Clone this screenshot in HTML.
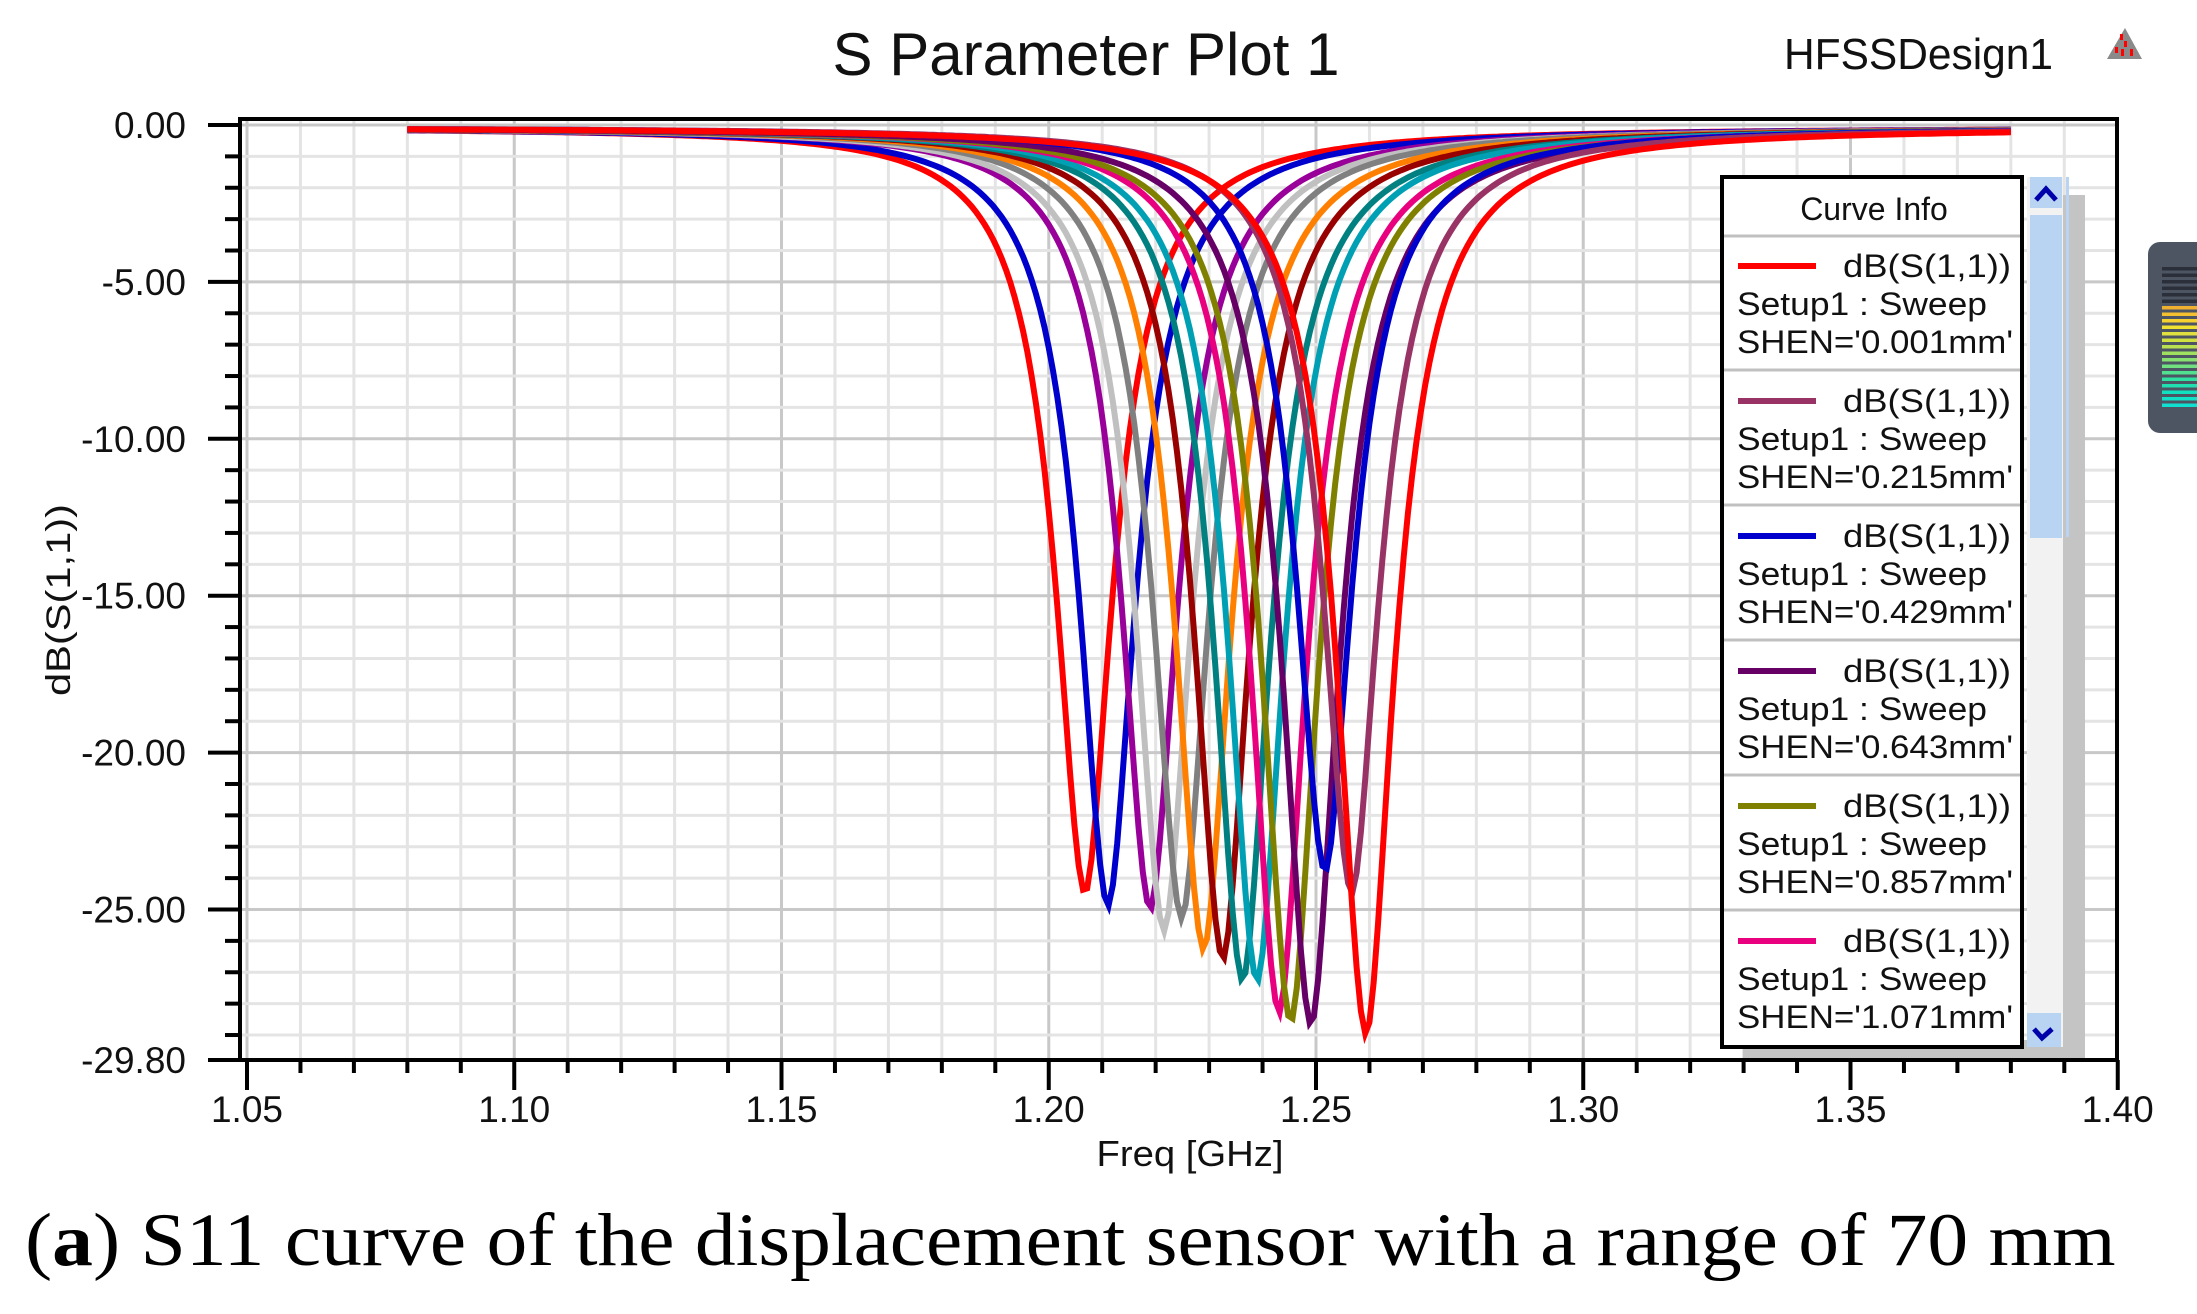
<!DOCTYPE html>
<html><head><meta charset="utf-8"><style>
html,body{margin:0;padding:0;background:#fff;}
svg{display:block;}
</style></head><body>
<svg id="s" width="2197" height="1314" viewBox="0 0 2197 1314" xmlns="http://www.w3.org/2000/svg" font-family="Liberation Sans, Arial, sans-serif">
<rect width="2197" height="1314" fill="#fff"/>
<g id="grid"></g>
<rect x="2063" y="195" width="22" height="865" fill="#c4c4c4"/>
<rect x="1743" y="1040" width="342" height="20" fill="#c4c4c4"/>
<g id="curves" fill="none" stroke-width="6" stroke-linejoin="miter"></g>
<rect x="240" y="119" width="1877" height="941" fill="none" stroke="#000" stroke-width="4"/>
<g id="ticks" stroke="#000" stroke-width="4"></g>
<g id="labels" font-size="37" fill="#111"></g>
<text x="1086" y="75" font-size="60" text-anchor="middle" textLength="507" lengthAdjust="spacingAndGlyphs" fill="#111">S Parameter Plot 1</text>
<text x="1784" y="69" font-size="44" textLength="269" lengthAdjust="spacingAndGlyphs" fill="#111">HFSSDesign1</text>
<polygon points="2125,28 2142,59 2107,59" fill="#8a8a8a"/>
<rect x="2120" y="34" width="3" height="6" fill="#f00"/><rect x="2124" y="41" width="3" height="6" fill="#f00"/>
<rect x="2115" y="47" width="3" height="6" fill="#f00"/><rect x="2121" y="49" width="3" height="7" fill="#f00"/><rect x="2130" y="49" width="3" height="7" fill="#f00"/>
<rect x="2148" y="242" width="60" height="191" rx="12" fill="#4d5563"/>
<g id="stripes"></g>
<text transform="translate(70,600) rotate(-90)" font-size="34" text-anchor="middle" textLength="192" lengthAdjust="spacingAndGlyphs" fill="#111">dB(S(1,1))</text>
<text x="1190" y="1166" font-size="36" text-anchor="middle" textLength="187" lengthAdjust="spacingAndGlyphs" fill="#111">Freq [GHz]</text>
<rect x="1722" y="177" width="300" height="870" fill="#fff" stroke="#000" stroke-width="4"/>
<line x1="1724" y1="236" x2="2020" y2="236" stroke="#c0c0c0" stroke-width="3"/>
<text x="1874" y="220" font-size="32" text-anchor="middle" fill="#111">Curve Info</text>
<g id="legend" font-size="32" fill="#111"></g>
<rect x="2027" y="177" width="36" height="870" fill="#f2f2f2"/>
<rect x="2030" y="177" width="32" height="31" fill="#b8d4f2"/>
<polyline points="2036,200 2046,189 2056,200" fill="none" stroke="#0000aa" stroke-width="5"/>
<rect x="2030" y="215" width="32" height="323" fill="#b8d4f2"/>
<rect x="2066" y="177" width="3" height="360" fill="#b8d4f2"/>
<rect x="2027" y="1013" width="34" height="34" fill="#b8d4f2"/>
<polyline points="2034,1029 2042,1038 2052,1029" fill="none" stroke="#0000aa" stroke-width="5"/>
<text x="25" y="1265" font-family="Liberation Serif, serif" font-size="75" fill="#000" transform="translate(25,0) scale(1.088,1) translate(-25,0)">(<tspan font-weight="bold">a</tspan>) S11 curve of the displacement sensor with a range of 70 mm</text>
</svg>
<script>
var NS="http://www.w3.org/2000/svg";
function el(p,t,a,txt){var e=document.createElementNS(NS,t);for(var k in a)e.setAttribute(k,a[k]);if(txt!=null)e.textContent=txt;p.appendChild(e);return e;}
function X(f){return 247+(f-1.05)*5345;}
function Y(v){return 125+(-v)*31.38;}
var g=document.getElementById('grid');
for(var i=0;i<35;i++){var x=X(1.05+i*0.01);el(g,'line',{x1:x,y1:121,x2:x,y2:1058,stroke:i%5==0?'#c8c8c8':'#e4e4e4','stroke-width':3});}
for(var d=0;d<=29;d++){var y=Y(-d);el(g,'line',{x1:242,y1:y,x2:2115,y2:y,stroke:d%5==0?'#c8c8c8':'#e4e4e4','stroke-width':3});}
var t=document.getElementById('ticks');
for(var d=0;d<=29;d++){var y=Y(-d);el(t,'line',{x1:d%5==0?208:225,y1:y,x2:240,y2:y});}
el(t,'line',{x1:208,y1:1060,x2:240,y2:1060});
for(var i=0;i<=35;i++){var x=X(1.05+i*0.01);el(t,'line',{x1:x,y1:1060,x2:x,y2:i%5==0?1090:1073});}
var L=document.getElementById('labels');
var yl=['0.00','-5.00','-10.00','-15.00','-20.00','-25.00'];
for(var i=0;i<6;i++)el(L,'text',{x:186,y:Y(-5*i)+13,'text-anchor':'end'},yl[i]);
el(L,'text',{x:186,y:1073,'text-anchor':'end'},'-29.80');
for(var i=0;i<=7;i++)el(L,'text',{x:X(1.05+i*0.05),y:1122,'text-anchor':'middle'},(1.05+i*0.05).toFixed(2));
var C=[
['#ff0000',1.2068,-24.4],['#0000cc',1.2111,-24.8],['#990099',1.219,-24.9],['#c0c0c0',1.2216,-25.6],['#808080',1.2249,-25.2],
['#ff8000',1.229,-26.2],['#990000',1.2326,-26.5],['#008080',1.2363,-27.2],['#00a0b4',1.239,-27.2],['#e8007f',1.2431,-28.2],
['#808000',1.2453,-28.5],['#660066',1.2491,-28.6],['#0000cc',1.2517,-23.7],['#993366',1.2567,-24.4],['#ff0000',1.2594,-28.9]];
var cg=document.getElementById('curves');
C.forEach(function(c){var pts=[];for(var f=1.08;f<=1.3805;f+=0.0008){var df=f-c[1];var u,v;
if(df<0){u=Math.pow(Math.abs(df)/0.0068,1.9);}else{u=Math.pow(df/0.0066,1.8);}
v=c[2]/(1+u)-0.08;
pts.push(X(f).toFixed(1)+','+Y(v).toFixed(1));}
el(cg,'polyline',{points:pts.join(' '),stroke:c[0]});});
var lg=document.getElementById('legend');
var LC=[['#ff0000','0.001'],['#993366','0.215'],['#0000cc','0.429'],['#660066','0.643'],['#808000','0.857'],['#e8007f','1.071']];
for(var i=0;i<6;i++){var b=236+i*135;
el(lg,'line',{x1:1738,y1:b+30,x2:1816,y2:b+30,stroke:LC[i][0],'stroke-width':6});
el(lg,'text',{x:2011,y:b+41,'text-anchor':'end',textLength:168,lengthAdjust:'spacingAndGlyphs'},'dB(S(1,1))');
el(lg,'text',{x:1737,y:b+79,textLength:250,lengthAdjust:'spacingAndGlyphs'},'Setup1 : Sweep');
el(lg,'text',{x:1737,y:b+117,textLength:276,lengthAdjust:'spacingAndGlyphs'},"SHEN='"+LC[i][1]+"mm'");
if(i<5)el(lg,'line',{x1:1724,y1:b+134,x2:2020,y2:b+134,stroke:'#c0c0c0','stroke-width':3});}
var st=document.getElementById('stripes');
var sc=['#2a2f3a','#2a2f3a','#2a2f3a','#2a2f3a','#2a2f3a','#2a2f3a','#f0b030','#f5c030','#f5d030','#f0e030','#e0e040','#d0e040','#b8e050','#a0e060','#88e070','#70e080','#50e090','#30e0a0','#20e0b0','#10e0c0','#10e0c8','#10e0d0'];
for(var i=0;i<22;i++)el(st,'rect',{x:2162,y:267+i*6.5,width:35,height:3.5,fill:sc[i]});
</script>
</body></html>
